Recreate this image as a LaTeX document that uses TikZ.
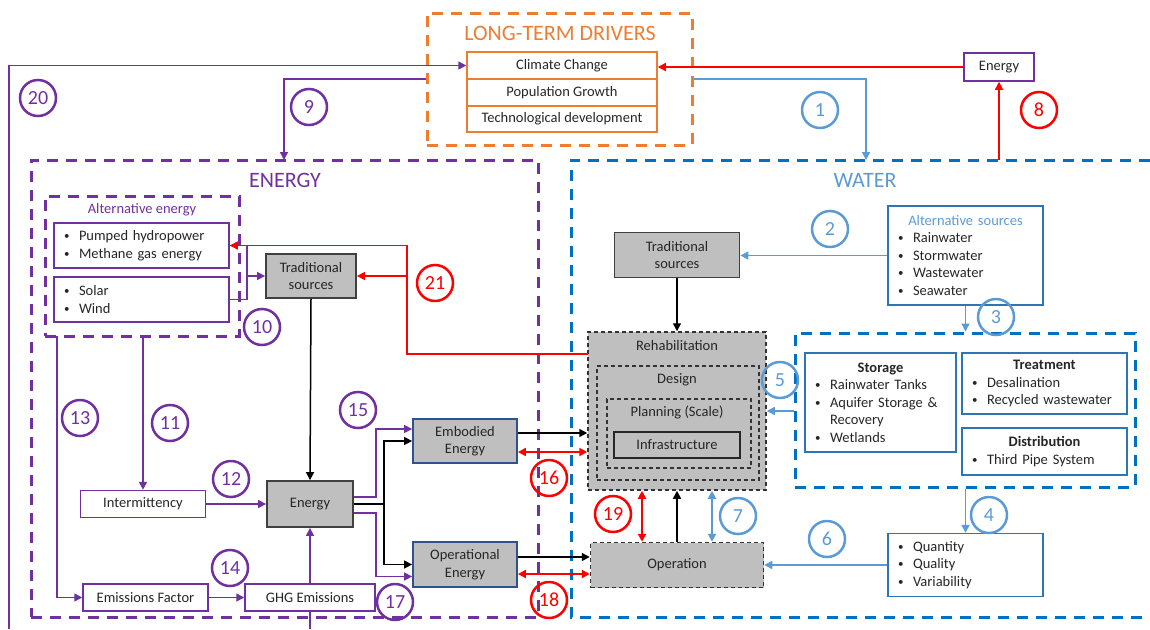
\documentclass[tikz,border=0pt]{standalone}
\usepackage{fontspec}
\setmainfont{Carlito}
\usepackage{tikz}
\usetikzlibrary{arrows.meta}

\definecolor{drvorange}{RGB}{237,125,49}
\definecolor{enpurple}{RGB}{112,48,160}
\definecolor{wtblue}{RGB}{0,112,192}
\definecolor{ltblue}{RGB}{91,155,213}
\definecolor{bxblue}{RGB}{46,117,182}
\definecolor{boxgray}{RGB}{191,191,191}
\definecolor{navy}{RGB}{47,82,143}
\definecolor{txt}{RGB}{38,38,38}
\definecolor{redline}{RGB}{255,0,0}

\newcommand{\bitem}[1]{\makebox[15pt][l]{\raisebox{1pt}{\fontsize{11}{11}\selectfont\textbullet}}#1}
\newcommand{\btitle}[1]{\makebox[\hsize]{#1}}

\begin{document}
\begin{tikzpicture}[x=1pt,y=-1pt,
		font=\fontsize{14.5}{17.5}\selectfont, text=txt,
		region/.style={draw, dash pattern=on 11pt off 8pt, line width=3pt},
		plain/.style={draw, line width=1.5pt, minimum height=27pt, inner sep=0pt},
		listbox/.style={draw=bxblue, line width=1.5pt, align=left, inner sep=0pt},
		graybox/.style={draw=black!75, fill=boxgray, line width=1.8pt, align=center, inner sep=0pt},
		layer/.style={draw=black!80, fill=boxgray, dash pattern=on 4pt off 3pt, line width=1.5pt, inner sep=0pt},
		num/.style={circle, draw, line width=2.5pt, minimum size=36pt, inner sep=0pt, font=\fontsize{20}{20}\selectfont},
		title/.style={font=\fontsize{22}{22}\selectfont},
		conn/.style={line width=1.5pt, -{Triangle[length=8pt,width=8pt]}},
		both/.style={line width=2pt, {Triangle[length=8pt,width=8pt]}-{Triangle[length=8pt,width=8pt]}}]
	\useasboundingbox (0,0) rectangle (1150,629);
	
	\node[region, draw=drvorange, minimum width=265pt, minimum height=132pt] (drivers) at (559.5,79) {};
	\node[title, text=drvorange] (drvtitle) at (560,33) {LONG-TERM DRIVERS};
	\node[plain, draw=drvorange, minimum width=190pt] (climate) at (562,65.5) {Climate Change};
	\node[plain, draw=drvorange, minimum width=190pt] (population) at (562,92.5) {Population Growth};
	\node[plain, draw=drvorange, minimum width=190pt, minimum height=26pt] (techdev) at (562,119) {Technological development};
	\node[plain, draw=enpurple, minimum width=70pt, minimum height=28pt] (energytop) at (999,67) {Energy};
	
	\node[region, draw=enpurple, minimum width=507pt, minimum height=457pt] (energyreg) at (284.5,388.5) {};
	\node[title, text=enpurple] (entitle) at (285,180) {ENERGY};
	\node[region, draw=enpurple, minimum width=194pt, minimum height=140pt] (altenergy) at (142,266) {};
	\node[text=enpurple] (alttitle) at (142,210) {Alternative energy};
	\node[plain, draw=enpurple, minimum width=175pt, minimum height=45pt, align=left, text width=155pt] (hydro) at (141.5,245.5) {\bitem{Pumped hydropower}\\\bitem{Methane gas energy}};
	\node[plain, draw=enpurple, minimum width=175pt, minimum height=45pt, align=left, text width=155pt] (solar) at (141.5,299.5) {\bitem{Solar}\\\bitem{Wind}};
	\node[graybox, minimum width=90pt, minimum height=44pt] (etrad) at (311,276) {Traditional\\sources};
	\node[plain, draw=enpurple, minimum width=125pt] (intermit) at (143,504) {Intermittency};
	\node[graybox, minimum width=86pt, minimum height=46pt] (energy) at (310,504) {Energy};
	\node[plain, draw=enpurple, minimum width=125pt] (emfactor) at (145.5,597.5) {Emissions Factor};
	\node[plain, draw=enpurple, minimum width=130pt] (ghg) at (310,597.5) {GHG Emissions};
	\node[graybox, draw=navy, minimum width=104pt, minimum height=44pt] (embodied) at (465,441) {Embodied\\Energy};
	\node[graybox, draw=navy, minimum width=104pt, minimum height=45pt] (operational) at (465,564.5) {Operational\\Energy};
	
	\draw[region, draw=wtblue] (1150,160) -- (571,160) -- (571,617) -- (1150,617);
	\node[title, text=ltblue] (wttitle) at (865,180) {WATER};
	\node[graybox, minimum width=125pt, minimum height=45pt] (wtrad) at (677,255) {Traditional\\sources};
	\node[listbox, minimum width=155pt, minimum height=99pt, text width=135pt] (altsrc) at (965.5,255.5) {\btitle{\color{ltblue}Alternative sources}\\\bitem{Rainwater}\\\bitem{Stormwater}\\\bitem{Wastewater}\\\bitem{Seawater}};
	\node[region, draw=wtblue, minimum width=340pt, minimum height=154pt] (storebox) at (965,410) {};
	\node[listbox, minimum width=151pt, minimum height=99pt, text width=131pt] (storage) at (880.5,402.5) {\btitle{\bfseries Storage}\\\bitem{Rainwater Tanks}\\\bitem{Aquifer Storage \&}\\\hspace*{15pt}Recovery\\\bitem{Wetlands}};
	\node[listbox, minimum width=165pt, minimum height=61pt, text width=145pt] (treatment) at (1044.5,383.5) {\btitle{\bfseries Treatment}\\\bitem{Desalination}\\\bitem{Recycled wastewater}};
	\node[listbox, minimum width=165pt, minimum height=47pt, text width=145pt] (distribution) at (1044.5,451.5) {\btitle{\bfseries Distribution}\\\bitem{Third Pipe System}};
	
	\node[layer, minimum width=178pt, minimum height=158pt] (rehab) at (677,411) {};
	\node (rehabtxt) at (677,346) {Rehabilitation};
	\node[layer, minimum width=162pt, minimum height=114pt] (design) at (678,423) {};
	\node (designtxt) at (677,380) {Design};
	\node[layer, minimum width=144pt, minimum height=69pt] (planning) at (679,433.5) {};
	\node (planningtxt) at (677,412) {Planning (Scale)};
	\node[draw=black!85, fill=boxgray, line width=1.5pt, minimum width=126pt, minimum height=26pt, inner sep=0pt] (infra) at (677,445) {Infrastructure};
	\node[layer, minimum width=173pt, minimum height=45pt] (operation) at (677,565) {Operation};
	\node[listbox, minimum width=155pt, minimum height=63pt, text width=135pt] (quantity) at (965.5,565) {\bitem{Quantity}\\\bitem{Quality}\\\bitem{Variability}};
	
	\coordinate (w1) at (866,160);
	\coordinate (w8) at (999,160);
	\coordinate (e9) at (284,160);
	\coordinate (p20) at (9,629);
	\coordinate (ajoin) at (247,276);
	\coordinate (r21) at (588,354);
	\coordinate (k21) at (407,354);
	\coordinate (a13) at (57,336);
	
	\draw[conn, ltblue] (drivers.east) -| (w1);
	\draw[conn, redline] (w8) -- (energytop.south);
	\draw[conn, redline] (energytop.west) -- (energytop.west -| climate.east);
	\draw[conn, enpurple] (p20) |- (climate.west);
	\draw[conn, enpurple] (drivers.west) -| (e9);
	
	\draw[line width=1.5pt, enpurple] (hydro.east) -| (ajoin) |- (solar.east);
	\draw[conn, enpurple] (ajoin) -- (etrad.west);
	\draw[conn, redline] (r21) -- (k21) |- (hydro.east);
	\draw[conn, redline] (k21 |- etrad.east) -- (etrad.east);
	\draw[conn, black] (etrad.south) -- (energy.north);
	\draw[conn, enpurple] (altenergy.south -| intermit.north) -- (intermit.north);
	\draw[conn, enpurple] (a13) |- (emfactor.west);
	\draw[conn, enpurple] (intermit.east) -- (energy.west);
	\draw[conn, enpurple] (emfactor.east) -- (ghg.west);
	\draw[conn, enpurple] (ghg.north) -- (energy.south);
	\draw[line width=1.5pt, enpurple] (ghg.south) -- (ghg.south |- p20);
	
	\draw[conn, enpurple] ([yshift=7pt]energy.east) -- ++(22,0) |- ([yshift=12pt]embodied.west);
	\draw[conn, black] (energy.east) -- ++(30,0) |- (embodied.west);
	\draw[conn, black] (energy.east) ++(30,0) |- (operational.west);
	\draw[conn, enpurple] ([yshift=-9pt]energy.east) -- ++(22,0) |- ([yshift=-12pt]operational.west);
	\draw[conn, black] ([yshift=8pt]embodied.east) -- ([yshift=8pt]embodied.east -| rehab.west);
	\draw[both, redline] ([yshift=-11pt]embodied.east) -- ([yshift=-11pt]embodied.east -| rehab.west);
	\draw[conn, black] ([yshift=7.5pt]operational.east) -- ([yshift=7.5pt]operational.east -| operation.west);
	\draw[both, redline] ([yshift=-9.5pt]operational.east) -- ([yshift=-9.5pt]operational.east -| operation.west);
	
	\draw[conn, ltblue] (altsrc.west) -- (altsrc.west -| wtrad.east);
	\draw[conn, black] (wtrad.south) -- (rehab.north);
	\draw[conn, ltblue] (altsrc.south) -- (altsrc.south |- storebox.north);
	\draw[conn, ltblue] (storebox.south -| quantity.north) -- (quantity.north);
	\draw[conn, ltblue] (storebox.west |- rehab.east) -- (rehab.east);
	\draw[conn, ltblue] (quantity.west) -- (operation.east);
	\draw[both, redline] ([xshift=-35pt]rehab.south) -- ([xshift=-35pt]operation.north);
	\draw[conn, black] (operation.north) -- (rehab.south);
	\draw[both, ltblue] ([xshift=35pt]rehab.south) -- ([xshift=35pt]operation.north);
	
	\foreach \k/\cx/\cy/\cc in {1/820/110/ltblue, 2/830/229/ltblue, 3/996/317/ltblue, 4/989/515/ltblue,
		5/780/380/ltblue, 6/827/539/ltblue, 7/738/516/ltblue, 8/1039/110/redline,
		9/309/107/enpurple, 10/262/327/enpurple, 11/170/423/enpurple, 12/231/479/enpurple,
		13/80/418/enpurple, 14/230/568/enpurple, 15/358/410/enpurple, 16/549/478/redline,
		17/395/602/enpurple, 18/549/600/redline, 19/613/514/redline, 20/38/98/enpurple,
		21/435/283/redline} {
		\node[num, draw=\cc, text=\cc] (n\k) at (\cx,\cy) {\k};
	}
\end{tikzpicture}
\end{document}
